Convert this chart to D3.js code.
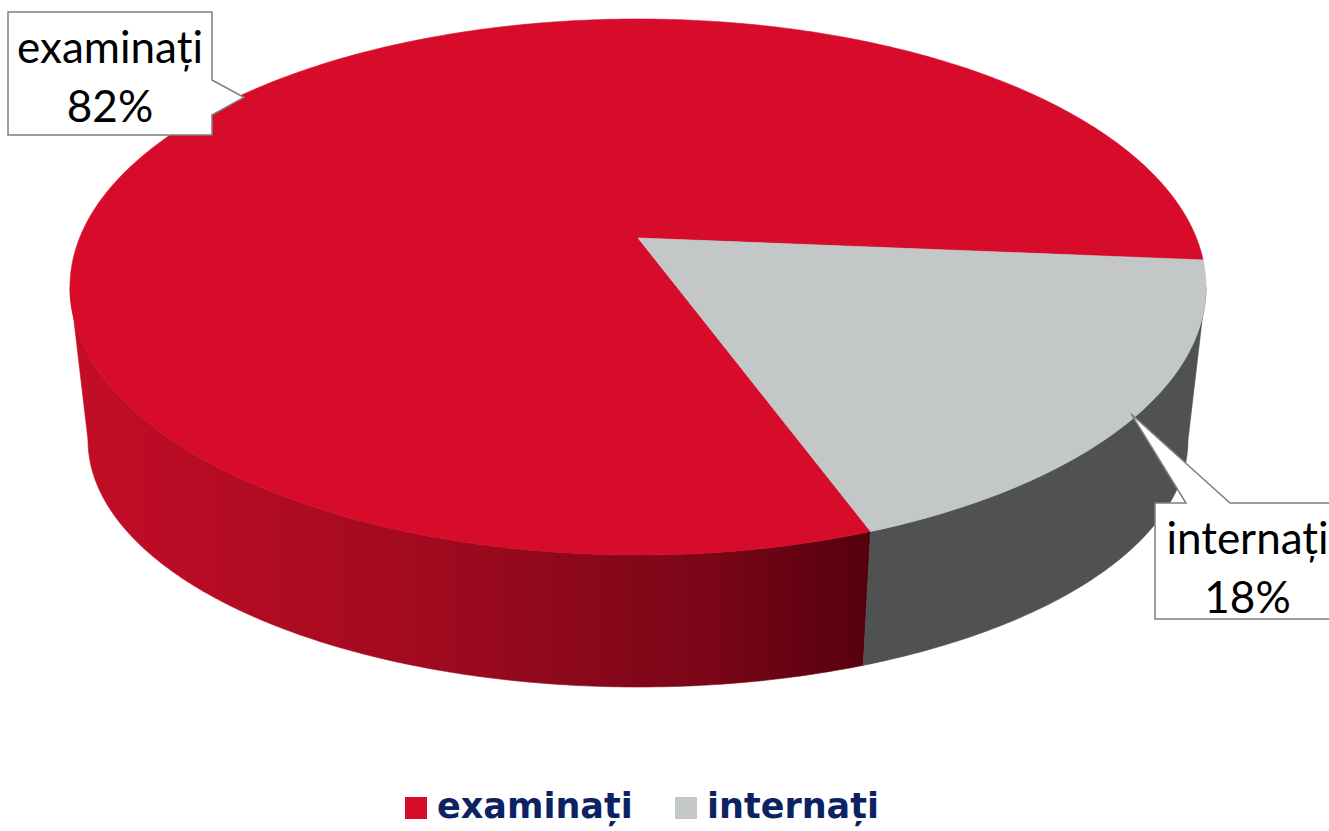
<!DOCTYPE html>
<html>
<head>
<meta charset="utf-8">
<script src="https://cdn.jsdelivr.net/npm/d3@7"></script>
<style>
  body { margin: 0; background: #fff; }
</style>
</head>
<body>
<div id="chart"></div>
<script>
const width = 1329, height = 831

// data
const categories = ["examinați", "internați"]
const values = [82, 18]
const pctLabels = ["82%", "18%"]
const topColors = ["#d60c2a", "#c4c7c8"]
const sideColors = ["url(#redSide)", "#505251"]

// geometry of the tilted disc (top face + bottom face ellipses)
const topEl = {cx: 638, cy: 287, rx: 568, ry: 268}
const botEl = {cx: 638, cy: 440, rx: 550, ry: 247}
const e = -0.183   // apex offset (perspective), in units of ry

let svg = d3.select("#chart")
            .append("svg")
            .attr("width", width)
            .attr("height", height)

let defs = svg.append("defs")
let grad = defs.append("linearGradient")
               .attr("id", "redSide")
               .attr("gradientUnits", "userSpaceOnUse")
               .attr("x1", 70).attr("x2", 870)
               .attr("y1", 0).attr("y2", 0)
grad.append("stop").attr("offset", "0%").attr("stop-color", "#c40d27")
grad.append("stop").attr("offset", "45%").attr("stop-color", "#a00a1f")
grad.append("stop").attr("offset", "80%").attr("stop-color", "#7a0617")
grad.append("stop").attr("offset", "100%").attr("stop-color", "#55000f")

// start so that the small slice ends at ~69.5deg (screen angle from +x, clockwise)
const endSmall = 69.5 * Math.PI / 180 + Math.PI / 2
let pie = d3.pie()
            .sort(null)
            .value(function(d) { return d })
            .startAngle(endSmall)
            .endAngle(endSmall + 2 * Math.PI)

let arcs = pie(values)

// point on an ellipse, along a ray from the (offset) apex; a = d3 pie angle
function rimPoint(el, a, f) {
  let phi = a - Math.PI / 2
  let s = Math.sin(phi), c = Math.cos(phi)
  let u = -e * s + Math.sqrt(e * e * s * s - e * e + 1)
  u = u * (f || 1)
  let ay = el.cy + e * el.ry
  return [el.cx + u * el.rx * c, ay + u * el.ry * s]
}

function sample(a0, a1) {
  let n = Math.max(2, Math.ceil(Math.abs(a1 - a0) / 0.01))
  return d3.range(n + 1).map(function(i) { return a0 + (a1 - a0) * i / n })
}

let line = d3.line()

// side walls (front half only)
arcs.forEach(function(d, i) {
  let angs = sample(d.startAngle, d.endAngle).filter(function(a) {
    return rimPoint(topEl, a)[1] >= topEl.cy - 0.5
  })
  if (angs.length < 2) return
  let upper = angs.map(function(a) { return rimPoint(topEl, a) })
  let lower = angs.map(function(a) { return rimPoint(botEl, a) }).reverse()
  svg.append("path")
     .attr("d", line(upper.concat(lower)) + "Z")
     .attr("fill", sideColors[i])
     .attr("stroke", sideColors[i])
     .attr("stroke-width", 0.6)
})

// top faces
arcs.forEach(function(d, i) {
  let apex = [topEl.cx, topEl.cy + e * topEl.ry]
  let pts = sample(d.startAngle, d.endAngle).map(function(a) { return rimPoint(topEl, a) })
  svg.append("path")
     .attr("d", line([apex].concat(pts)) + "Z")
     .attr("fill", topColors[i])
     .attr("stroke", topColors[i])
     .attr("stroke-width", 0.6)
})

// callouts
const boxes = [
  {x: 8, y: 12, w: 204, h: 123, side: "right", base1: 80, base2: 115},
  {x: 1155, y: 503, w: 185, h: 116, side: "top", base1: 1186, base2: 1230}
]

function calloutPath(b, tip) {
  let x0 = b.x, y0 = b.y, x1 = b.x + b.w, y1 = b.y + b.h
  if (b.side === "right") {
    return "M" + x0 + "," + y0 + "H" + x1 + "V" + b.base1 + "L" + tip[0] + "," + tip[1] +
           "L" + x1 + "," + b.base2 + "V" + y1 + "H" + x0 + "Z"
  }
  return "M" + x0 + "," + y0 + "H" + b.base1 + "L" + tip[0] + "," + tip[1] +
         "L" + b.base2 + "," + y0 + "H" + x1 + "V" + y1 + "H" + x0 + "Z"
}

arcs.forEach(function(d, i) {
  let b = boxes[i]
  let mid = (d.startAngle + d.endAngle) / 2
  let tip = rimPoint(topEl, mid, 0.99)
  svg.append("path")
     .attr("d", calloutPath(b, tip))
     .attr("fill", "#fff")
     .attr("stroke", "#7f7f7f")
     .attr("stroke-width", 1.5)
  let cxText = b.x + b.w / 2
  let t = svg.append("text")
             .attr("text-anchor", "middle")
             .attr("font-family", "Lato, 'Open Sans', sans-serif")
             .attr("font-size", 44)
             .attr("fill", "#000")
  t.append("tspan").attr("x", cxText).attr("y", b.y + 51).text(categories[i])
  t.append("tspan").attr("x", cxText).attr("y", b.y + 110).text(pctLabels[i])
})

// legend
let legend = svg.append("g").attr("transform", "translate(405,797)")
let lx = d3.scalePoint().domain(categories).range([0, 270])
categories.forEach(function(c, i) {
  let g = legend.append("g").attr("transform", "translate(" + lx(c) + ",0)")
  g.append("rect")
   .attr("width", 22).attr("height", 22)
   .attr("fill", topColors[i])
  g.append("text")
   .attr("x", 32).attr("y", 21)
   .attr("font-family", "'DejaVu Sans', sans-serif")
   .attr("font-weight", "bold")
   .attr("font-size", 35)
   .attr("fill", "#0d2263")
   .text(c)
})
</script>
</body>
</html>
